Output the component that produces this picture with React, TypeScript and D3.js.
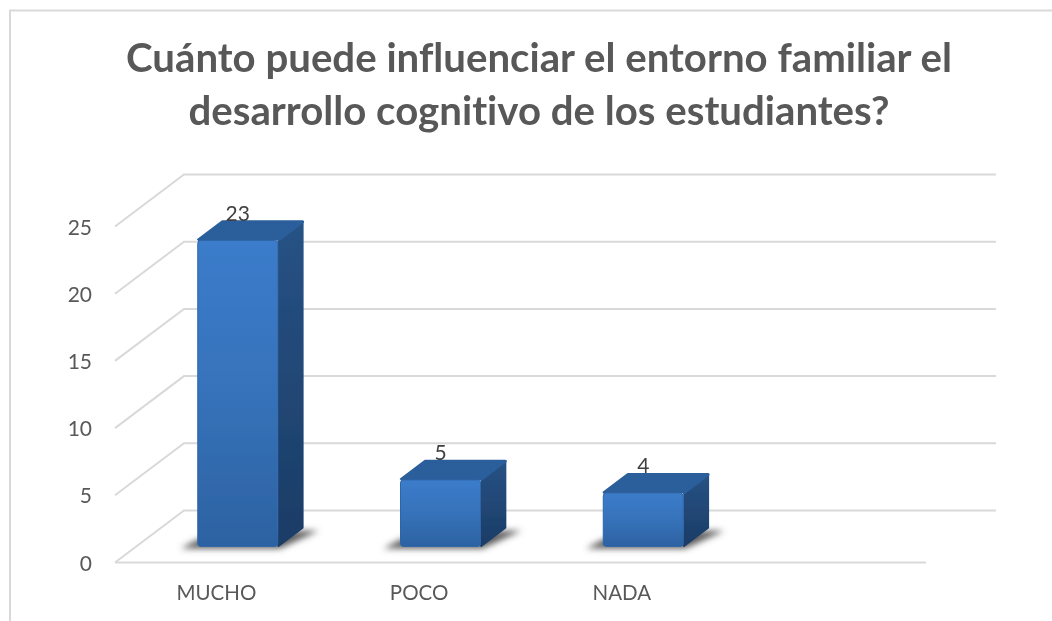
import React, { useEffect, useRef } from "react";
import * as d3 from "d3";

const categories = ["MUCHO", "POCO", "NADA", ""];
const values = [23, 5, 4];
const yTicks = [0, 5, 10, 15, 20, 25];
const titleLines = [
  "Cuánto puede influenciar el entorno familiar el",
  "desarrollo cognitivo de los estudiantes?",
];

const width = 1052;
const height = 621;
const font = "Lato, 'Open Sans', sans-serif";

export default function App() {
  const svgRef = useRef<SVGSVGElement>(null);

  useEffect(() => {
    const root = d3.select(svgRef.current);
    root.selectAll("*").remove();

    // fake 3d: floor depth goes from the front axis to the back wall
    const depthX = 69;
    const depthY = -52;
    const x = d3.scaleBand().domain(categories).range([115, 926]);
    const y = d3.scaleLinear().domain([0, 25]).range([562.5, 226.5]);
    const barH = d3.scaleLinear().domain([0, 25]).range([0, 332.5]);

    const defs = root.append("defs");
    const grad = (id: string, stops: [number, string][]) => {
      const g = defs.append("linearGradient").attr("id", id)
        .attr("x1", 0).attr("y1", 0).attr("x2", 0).attr("y2", 1);
      stops.forEach(([o, c]) => g.append("stop").attr("offset", o).attr("stop-color", c));
    };
    grad("front", [[0, "#3b7ccb"], [0.5, "#3672ba"], [1, "#2c62a2"]]);
    grad("side", [[0, "#275285"], [1, "#1b3c66"]]);
    defs.append("filter").attr("id", "shadow").attr("x", "-30%").attr("y", "-50%")
      .attr("width", "160%").attr("height", "200%")
      .append("feGaussianBlur").attr("stdDeviation", 3);
    // the source is a slightly soft screenshot
    defs.append("filter").attr("id", "soft")
      .attr("filterUnits", "userSpaceOnUse")
      .attr("x", 0).attr("y", 0).attr("width", width).attr("height", height)
      .append("feGaussianBlur").attr("stdDeviation", 0.45);

    const svg = root.append("g").attr("filter", "url(#soft)")
      .style("font-variant-ligatures", "none");

    svg.append("rect").attr("width", width).attr("height", height).attr("fill", "#fff");

    // frame: the crop cuts off the right and bottom edges
    svg.append("path")
      .attr("d", "M10,621V10.5H1052")
      .attr("fill", "none")
      .attr("stroke", "#d9d9d9")
      .attr("stroke-width", 2);

    svg.append("g").selectAll("text").data(titleLines).join("text")
      .attr("x", 539)
      .attr("y", (_, i) => 72 + i * 53)
      .attr("text-anchor", "middle")
      .attr("font-family", font)
      .attr("font-weight", 700)
      .attr("font-size", 40.2)
      .attr("fill", "#595959")
      .text(d => d);

    // gridlines: wall + side wall + floor
    const grid = svg.append("g").attr("fill", "none").attr("stroke", "#d9d9d9").attr("stroke-width", 2);
    const left = x.range()[0];
    const right = x.range()[1];
    yTicks.forEach(t => {
      const y0 = y(t);
      const pts: [number, number][] = [
        [left, y0],
        [left + depthX, y0 + depthY],
        [right + depthX + 1, y0 + depthY],
      ];
      grid.append("path").attr("d", d3.line()(pts));
    });
    grid.append("path").attr("d", d3.line()([[left, y(0)], [right, y(0)]]));

    svg.append("g").selectAll("text").data(yTicks).join("text")
      .attr("x", 92)
      .attr("y", d => y(d) + 8)
      .attr("text-anchor", "end")
      .attr("font-family", font)
      .attr("font-size", 21)
      .attr("fill", "#595959")
      .text(d => d);

    svg.append("g").selectAll("text").data(categories.filter(c => c)).join("text")
      .attr("x", d => x(d)! + x.bandwidth() / 2)
      .attr("y", 600)
      .attr("text-anchor", "middle")
      .attr("font-family", font)
      .attr("font-size", 20.5)
      .attr("fill", "#595959")
      .text(d => d);

    // bars
    const barW = 80;
    const d0 = 0.31;
    const d1 = 0.67;
    values.forEach((v, i) => {
      const bx = x(categories[i])! + (x.bandwidth() - barW) / 2;
      const fx = bx + d0 * depthX;
      const fy = y(0) + d0 * depthY;
      const top = fy - barH(v);
      const sx = (d1 - d0) * depthX;
      const sy = (d1 - d0) * depthY;
      const g = svg.append("g");

      // floor shadow
      g.append("path")
        .attr("d", d3.line()([
          [fx - 17, fy + 2],
          [fx + barW + 2, fy + 2],
          [fx + barW + sx + 16, fy + sy + 3],
          [fx + barW + sx, fy + sy + 3],
          [fx, fy - 7],
        ]))
        .attr("fill", "#5c5c5c")
        .attr("filter", "url(#shadow)");

      g.append("path")
        .attr("d", d3.line()([
          [fx + barW, top],
          [fx + barW + sx, top + sy],
          [fx + barW + sx, fy + sy],
          [fx + barW, fy],
        ]))
        .attr("fill", "url(#side)")
        .attr("stroke", "url(#side)")
        .attr("stroke-linejoin", "round")
        .attr("stroke-width", 2);

      g.append("path")
        .attr("d", d3.line()([
          [fx, top],
          [fx + sx, top + sy],
          [fx + barW + sx, top + sy],
          [fx + barW, top],
        ]))
        .attr("fill", "#2a5e9b")
        .attr("stroke", "#2a5e9b")
        .attr("stroke-linejoin", "round")
        .attr("stroke-width", 3);

      g.append("rect")
        .attr("x", fx)
        .attr("y", top)
        .attr("width", barW)
        .attr("height", fy - top)
        .attr("rx", 3)
        .attr("fill", "url(#front)")
        .attr("stroke", "#2d65a8")
        .attr("stroke-width", 1);

      g.append("text")
        .attr("x", fx + barW / 2)
        .attr("y", top + sy - 1)
        .attr("text-anchor", "middle")
        .attr("font-family", font)
        .attr("font-size", 21)
        .attr("fill", "#404040")
        .text(v);
    });
  }, []);

  return (
    <svg
      ref={svgRef}
      width={width}
      height={height}
      style={{ position: "fixed", left: 0, top: 0, background: "#fff" }}
    />
  );
}
